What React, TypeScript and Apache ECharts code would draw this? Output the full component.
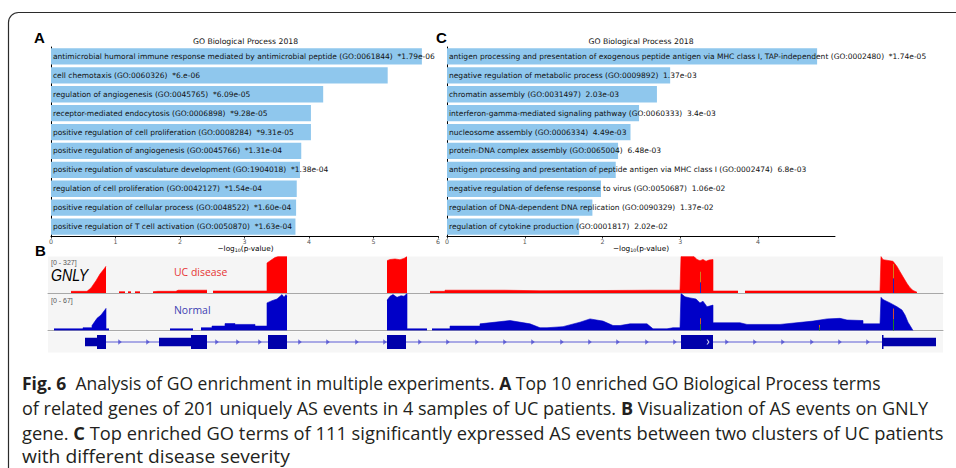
import React, { useEffect, useRef } from 'react';
import * as echarts from 'echarts';

// ---------- Panel A data ----------
const termsA = [
  'antimicrobial humoral immune response mediated by antimicrobial peptide (GO:0061844)',
  'cell chemotaxis (GO:0060326)',
  'regulation of angiogenesis (GO:0045765)',
  'receptor-mediated endocytosis (GO:0006898)',
  'positive regulation of cell proliferation (GO:0008284)',
  'positive regulation of angiogenesis (GO:0045766)',
  'positive regulation of vasculature development (GO:1904018)',
  'regulation of cell proliferation (GO:0042127)',
  'positive regulation of cellular process (GO:0048522)',
  'positive regulation of T cell activation (GO:0050870)',
];
const pA = ['*1.79e-06', '*6.e-06', '*6.09e-05', '*9.28e-05', '*9.31e-05', '*1.31e-04', '*1.38e-04', '*1.54e-04', '*1.60e-04', '*1.63e-04'];
const valA = [5.75, 5.22, 4.22, 4.03, 4.03, 3.88, 3.86, 3.81, 3.8, 3.79];
const ticksA = [0, 1, 2, 3, 4, 5, 6];

// ---------- Panel C data ----------
const termsC = [
  'antigen processing and presentation of exogenous peptide antigen via MHC class I, TAP-independent (GO:0002480)',
  'negative regulation of metabolic process (GO:0009892)',
  'chromatin assembly (GO:0031497)',
  'interferon-gamma-mediated signaling pathway (GO:0060333)',
  'nucleosome assembly (GO:0006334)',
  'protein-DNA complex assembly (GO:0065004)',
  'antigen processing and presentation of peptide antigen via MHC class I (GO:0002474)',
  'negative regulation of defense response to virus (GO:0050687)',
  'regulation of DNA-dependent DNA replication (GO:0090329)',
  'regulation of cytokine production (GO:0001817)',
];
const pC = ['*1.74e-05', '1.37e-03', '2.03e-03', '3.4e-03', '4.49e-03', '6.48e-03', '6.8e-03', '1.06e-02', '1.37e-02', '2.02e-02'];
const valC = [4.76, 2.87, 2.7, 2.47, 2.36, 2.2, 2.17, 1.98, 1.87, 1.7];
const ticksC = [0, 1, 2, 3, 4];

// ---------- Panel B data (relative locus position, coverage) ----------
const ucCoverage: number[][][] = [
  [[23, 15], [39, 15], [43, 45], [48, 110], [52, 170], [56, 215], [58, 240]],
  [[71, 12], [77, 12]],
  [[80, 12], [83, 12]],
  [[87, 12], [92, 12]],
  [[105, 12], [110, 15], [128, 15], [130, 25], [159, 25]],
  [[165, 18], [219, 18], [219, 269], [224, 300], [227, 318], [230, 327], [239, 327]],
  [[339, 290], [342, 300], [347, 305], [352, 298], [356, 310], [359, 327]],
  [[382, 15], [397, 15], [397, 25], [457, 25], [492, 20], [552, 22], [602, 25], [632, 25], [633, 327], [646, 327], [649, 300], [652, 290], [655, 300], [658, 285], [661, 295], [665, 300], [665, 18], [690, 18]],
  [[697, 18], [832, 18], [833, 327], [835, 299], [845, 284], [849, 238], [852, 191], [855, 145], [859, 85], [862, 48], [865, 23], [869, 7]],
];
const normalCoverage: number[][][] = [
  [[6, 3], [35, 3], [35, 5], [44, 5], [44, 9], [49, 22], [53, 28], [58, 40], [58, 3], [61, 3]],
  [[122, 3], [145, 3]],
  [[153, 5], [164, 5], [164, 8], [177, 8], [177, 12.5], [187, 12.5], [187, 11], [207, 11], [207, 8], [219, 8], [219, 50], [224, 54], [229, 57], [234, 65], [236, 60], [238, 65], [239, 62]],
  [[339, 55], [342, 62], [345, 65], [349, 60], [353, 63], [356, 62], [359, 67], [359, 3], [379, 3]],
  [[384, 3], [402, 3], [402, 8], [432, 8], [432, 12], [462, 18], [482, 12], [492, 5], [499, 5], [515, 7], [532, 15], [542, 21], [555, 17], [565, 9], [572, 9], [582, 12], [599, 12], [605, 3], [619, 3], [625, 5], [632, 5], [633, 67], [637, 61], [642, 59], [648, 57], [652, 50], [655, 53], [659, 43], [665, 46], [665, 14], [692, 14], [699, 11], [732, 11], [732, 12], [765, 17], [779, 21], [792, 22], [799, 19], [815, 18], [815, 12], [832, 12], [833, 60], [835, 56], [842, 50], [849, 43], [854, 37], [857, 28], [860, 15], [864, 3], [865, 0]],
];
// mismatch markers: [position, height]
const ucMismatch = [[652, 190], [845, 260]];
const normalMismatch = [[652, 22], [845, 40], [771, 10]];
// exons: [start, end, thick(1)/thin(0)]
const exons = [
  [37, 49, 0], [49, 58, 1], [111, 143, 0], [143, 159, 1], [220, 239, 1],
  [339, 358, 1], [633, 665, 1], [834, 888, 0], [834, 835.5, 1],
];
const geneSpan = [37, 888];
const strandArrows = [72, 100, 169, 190, 212, 252, 280, 309, 337, 372, 400, 429, 457, 485, 514, 542, 570, 599, 627, 679, 707, 735, 764, 792, 820];
const exonArrows = [660];
const locusRange = [0, 895];
const ucMax = 327;
const normalMax = 67;

const captionLines = [
  '{b|Fig. 6}{n|  Analysis of GO enrichment in multiple experiments. }{b|A}{n| Top 10 enriched GO Biological Process terms}',
  '{n|of related genes of 201 uniquely AS events in 4 samples of UC patients. }{b|B}{n| Visualization of AS events on GNLY}',
  '{n|gene. }{b|C}{n| Top enriched GO terms of 111 significantly expressed AS events between two clusters of UC patients}',
  '{n|with different disease severity}',
];
const captionScale = [0.946, 0.975, 0.99, 1.04];

const MPL = 'DejaVu Sans';
const BAR = '#8fc7ed';

function barGridAxes(gridIndex: number, max: number, ticks: number[], terms: string[]) {
  return {
    x: {
      type: 'value', gridIndex, min: 0, max,
      axisLine: { show: true, lineStyle: { color: '#000', width: 1 } },
      axisTick: { show: true, length: 2.5, customValues: ticks, lineStyle: { color: '#000', width: 0.8 } },
      axisLabel: { show: true, customValues: ticks, fontSize: 6.3, color: '#555', margin: 2, fontFamily: MPL },
      splitLine: { show: false },
    },
    y: {
      type: 'category', gridIndex, data: terms, inverse: true,
      axisLine: { show: true, lineStyle: { color: '#000', width: 1 } },
      axisTick: { show: false }, axisLabel: { show: false }, splitLine: { show: false },
    },
  };
}

export default function App() {
  const ref = useRef<HTMLDivElement>(null);
  useEffect(() => {
    if (!ref.current) return;
    const chart = echarts.init(ref.current, undefined, { renderer: 'svg' });
    const a = barGridAxes(0, 6, ticksA, termsA);
    const c = barGridAxes(1, 4.99, ticksC, termsC);
    const trackX = (gi: number, sep: boolean) => ({
      type: 'value', gridIndex: gi, min: locusRange[0], max: locusRange[1],
      axisLine: { show: sep, onZero: false, lineStyle: { color: '#a8a8a8', width: 1 } },
      axisTick: { show: false }, axisLabel: { show: false }, splitLine: { show: false },
    });
    const trackY = (gi: number, min: number, max: number) => ({
      type: 'value', gridIndex: gi, min, max, show: false, splitLine: { show: false },
    });
    const covSeries = (segs: number[][][], idx: number, color: string) =>
      segs.map((seg) => ({
        type: 'line', xAxisIndex: idx, yAxisIndex: idx, data: seg, symbol: 'none', showSymbol: false,
        lineStyle: { width: 0.6, color }, areaStyle: { color, opacity: 1 }, silent: true, z: 3,
      }));
    const mismatchSeries = (data: number[][], idx: number, colors: string[]) => ({
      type: 'custom', xAxisIndex: idx, yAxisIndex: idx, data, silent: true, z: 5,
      renderItem: (params: any, api: any) => {
        const p0 = api.coord([api.value(0), 0]);
        const p1 = api.coord([api.value(0), api.value(1)]);
        const mid = (p0[1] + p1[1]) / 2;
        return {
          type: 'group', children: [
            { type: 'rect', shape: { x: p0[0], y: p1[1], width: 1, height: mid - p1[1] }, style: { fill: colors[0] } },
            { type: 'rect', shape: { x: p0[0], y: mid, width: 1, height: p0[1] - mid }, style: { fill: colors[1] } },
          ],
        };
      },
    });
    const labelFor = (terms: string[], ps: string[]) => ({
      show: true, position: 'insideLeft', distance: 2, fontFamily: MPL, fontSize: 7.5, color: '#111',
      formatter: (p: any) => terms[p.dataIndex] + '  ' + ps[p.dataIndex],
    });
    const txt = (x: number, y: number, text: string, style: any, extra: any = {}) => ({
      type: 'text', x, y, z: 50, ...extra,
      style: { text, verticalAlign: 'middle', align: 'left', ...style },
    });
    const xlabel = '{m|\u2212log}{s|10}{m|(p-value)}';
    const xlabelRich = { m: { fontSize: 7.3, fontFamily: MPL, color: '#111' }, s: { fontSize: 4.8, fontFamily: MPL, color: '#111', verticalAlign: 'bottom', padding: [3, 0, 0, 0] } };
    const option: any = {
      animation: false,
      backgroundColor: '#ffffff',
      grid: [
        { left: 51, top: 47, width: 387, height: 189, outerBoundsMode: 'none' },
        { left: 447, top: 47, width: 388, height: 189, outerBoundsMode: 'none' },
        { left: 48, top: 256.5, width: 895, height: 36.5, show: true, backgroundColor: '#f5f5f5', borderWidth: 0, outerBoundsMode: 'none' },
        { left: 48, top: 293.5, width: 895, height: 37, show: true, backgroundColor: '#f5f5f5', borderWidth: 0, outerBoundsMode: 'none' },
        { left: 48, top: 331.5, width: 895, height: 21, show: true, backgroundColor: '#f6f6f6', borderWidth: 0, outerBoundsMode: 'none' },
      ],
      xAxis: [a.x, c.x, trackX(2, true), trackX(3, true), trackX(4, false)],
      yAxis: [a.y, c.y, trackY(2, 0, ucMax), trackY(3, 0, normalMax), trackY(4, -1, 1)],
      series: [
        { type: 'bar', xAxisIndex: 0, yAxisIndex: 0, data: valA, barCategoryGap: '14%', itemStyle: { color: BAR }, label: labelFor(termsA, pA), silent: true },
        { type: 'bar', xAxisIndex: 1, yAxisIndex: 1, data: valC, barCategoryGap: '14%', itemStyle: { color: BAR }, label: labelFor(termsC, pC), silent: true },
        ...covSeries(ucCoverage, 2, '#ff0000'),
        ...covSeries(normalCoverage, 3, '#0000c8'),
        mismatchSeries(ucMismatch, 2, ['#d08020', '#2020c0']),
        mismatchSeries(normalMismatch, 3, ['#d05030', '#208020']),
        {
          type: 'line', xAxisIndex: 4, yAxisIndex: 4, data: [[geneSpan[0], 0], [geneSpan[1], 0]], symbol: 'none',
          lineStyle: { color: '#5c5cd4', width: 1.2 }, silent: true, z: 2,
        },
        {
          type: 'scatter', xAxisIndex: 4, yAxisIndex: 4, data: strandArrows.map((p) => [p, 0]),
          symbol: 'path://M0,0L8,5L0,10Z', symbolSize: [3.5, 5.5], itemStyle: { color: '#4a4ad0' }, silent: true, z: 3,
        },
        {
          type: 'custom', xAxisIndex: 4, yAxisIndex: 4, data: exons, silent: true, z: 4,
          renderItem: (params: any, api: any) => {
            const s = api.value(0), e = api.value(1), k = api.value(2);
            const p0 = api.coord([s, 0]), p1 = api.coord([e, 0]);
            const h = k === 1 ? 14 : 8.5;
            return { type: 'rect', shape: { x: p0[0], y: p0[1] - h / 2, width: Math.max(p1[0] - p0[0], 1.2), height: h }, style: { fill: '#0000aa' } };
          },
        },
        {
          type: 'scatter', xAxisIndex: 4, yAxisIndex: 4, data: exonArrows.map((p) => [p, 0]),
          symbol: 'path://M0,0L3,0L7,5L3,10L0,10L4,5Z', symbolSize: [3, 5], itemStyle: { color: '#ffffff' }, silent: true, z: 6,
        },
      ],
      graphic: [
        { type: 'rect', z: 40, shape: { x: 8.5, y: 12.5, width: 1000, height: 520, r: [10, 0, 0, 0] }, style: { fill: 'none', stroke: '#2b2b2b', lineWidth: 1.2 } },
        txt(34, 37.5, 'A', { fontFamily: 'Liberation Sans', fontWeight: 'bold', fontSize: 15, fill: '#000' }),
        txt(436, 37.5, 'C', { fontFamily: 'Liberation Sans', fontWeight: 'bold', fontSize: 15, fill: '#000' }),
        txt(35, 250.5, 'B', { fontFamily: 'Liberation Sans', fontWeight: 'bold', fontSize: 15, fill: '#000' }),
        txt(245.5, 41.5, 'GO Biological Process 2018', { fontFamily: MPL, fontSize: 7.7, fill: '#111', align: 'center' }),
        txt(641, 41.5, 'GO Biological Process 2018', { fontFamily: MPL, fontSize: 7.7, fill: '#111', align: 'center' }),
        txt(245.5, 248.5, xlabel, { rich: xlabelRich, align: 'center' }),
        txt(641, 248.5, xlabel, { rich: xlabelRich, align: 'center' }),
        txt(51, 262.5, '[0 - 327]', { fontFamily: 'Liberation Sans', fontSize: 7, fill: '#555' }),
        txt(51, 300.5, '[0 - 67]', { fontFamily: 'Liberation Sans', fontSize: 7, fill: '#555' }),
        txt(51, 275, 'GNLY', { fontFamily: 'Liberation Sans', fontStyle: 'italic', fontSize: 16.5, fill: '#000' }, { scaleX: 0.86 }),
        txt(174, 272, 'UC disease', { fontFamily: 'Open Sans', fontSize: 11, fill: '#e63434' }, { scaleX: 0.95 }),
        txt(174, 309.5, 'Normal', { fontFamily: 'Open Sans', fontSize: 11, fill: '#3e3eb2' }, { scaleX: 0.95 }),
        ...captionLines.map((line, i) =>
          txt(22, 383 + i * 24.5, line, {
            rich: {
              b: { fontFamily: 'Open Sans', fontWeight: 'bold', fontSize: 18.5, fill: '#231f20' },
              n: { fontFamily: 'Open Sans', fontSize: 18.5, fill: '#231f20' },
            },
          }, { scaleX: captionScale[i] })
        ),
      ],
    };
    chart.setOption(option);
    return () => chart.dispose();
  }, []);
  return <div ref={ref} style={{ position: 'fixed', left: 0, top: 0, width: 956, height: 468, background: '#fff' }} />;
}
